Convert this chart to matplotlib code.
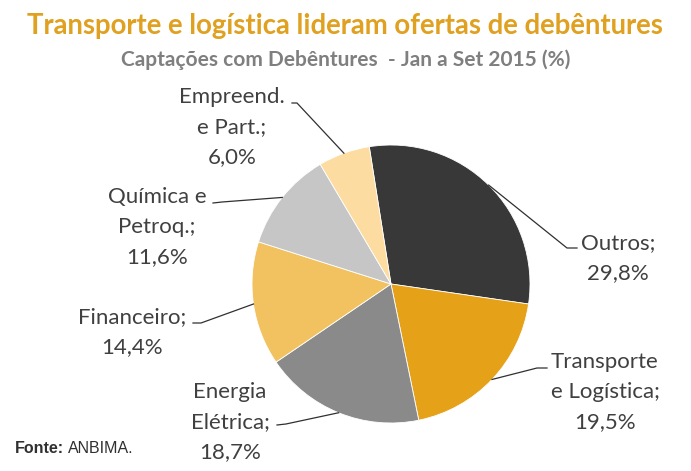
import matplotlib.pyplot as plt
import numpy as np

# data
categories = ["Outros", "Transporte\ne Logística", "Energia\nElétrica",
              "Financeiro", "Química e\nPetroq.", "Empreend.\ne Part."]
values = [29.8, 19.5, 18.7, 14.4, 11.6, 6.0]
colors = ["#383838", "#E5A117", "#8A8A8A", "#F2C260", "#C6C6C6", "#FCDCA0"]

W, H = 691, 471
fig = plt.figure(figsize=(W / 100, H / 100), dpi=100)
ax = fig.add_axes([0, 0, 1, 1])

# pie geometry in pixels (y measured from top)
cx, cy, r = 391, 284, 139
wedges, _ = ax.pie(values, colors=colors, startangle=99, counterclock=False,
                   center=(cx, H - cy), radius=r,
                   wedgeprops=dict(edgecolor="white", linewidth=0.6))
ax.set_xlim(0, W)
ax.set_ylim(0, H)
ax.set_aspect("equal")
ax.axis("off")

font = "Lato"
txt_col = "#404040"

# label center x, first baseline y, and leader elbow points (text end, bend)
label_pos = [(618, 249), (605, 368), (230, 398), (132, 323), (157, 203), (232, 103)]
leaders = [((577, 248), (567, 248)), ((547, 368), (537, 368)), ((277, 425), (286, 424)),
           ((193, 323), (201, 323)), ((213, 203), (222, 202)), ((292, 103), (297, 103))]
pitch = 30

for w, name, v, (lx, ly), (p0, p1) in zip(wedges, categories, values, label_pos, leaders):
    lines = (name + ";").split("\n") + [f"{v:.1f}".replace(".", ",") + "%"]
    for i, s in enumerate(lines):
        ax.text(lx, H - (ly + i * pitch), s, ha="center", va="baseline",
                fontsize=16, color=txt_col, family=font)
    mid = np.deg2rad((w.theta1 + w.theta2) / 2)
    ex, ey = w.center[0] + r * np.cos(mid), w.center[1] + r * np.sin(mid)
    ax.plot([p0[0], p1[0], ex], [H - p0[1], H - p1[1], ey], color="#303030", lw=0.9)

# titles
ax.text(345, H - 34, "Transporte e logística lideram ofertas de debêntures",
        ha="center", va="baseline", fontsize=19.8, fontweight="bold",
        color="#E0A020", family=font)
ax.text(346, H - 66, "Captações com Debêntures  - Jan a Set 2015 (%)",
        ha="center", va="baseline", fontsize=15, fontweight="bold",
        color="#7F7F7F", family=font)

# source
t = ax.text(15, H - 456, "Fonte:", ha="left", va="bottom", fontsize=11.5,
            fontweight="bold", color="#303030", family="Liberation Sans")
ax.annotate("ANBIMA.", xy=(1, 0), xycoords=t, xytext=(3, 0), textcoords="offset points",
            ha="left", va="bottom", fontsize=11.5, color="#303030", family="Liberation Sans")

fig.savefig("out.png", dpi=100)
